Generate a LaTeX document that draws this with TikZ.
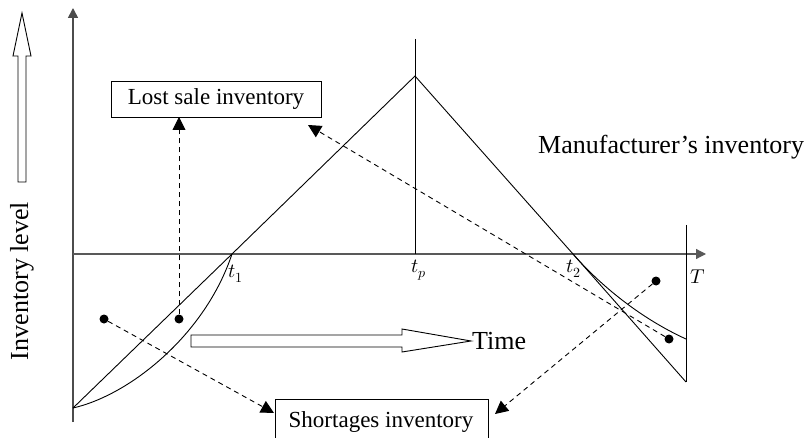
\documentclass[tikz,border=0pt]{standalone}
\usepackage{fontspec}
\usepackage{unicode-math}
\setmainfont{Liberation Serif}
\setmathfont{Latin Modern Math}
\usetikzlibrary{arrows.meta}
\begin{document}
\begin{tikzpicture}[x=1pt,y=-1pt,
  curve/.style={line width=0.9pt},
  axis/.style={line width=1.6pt,draw=black!65},
  leader/.style={line width=0.9pt,dash pattern=on 5pt off 4pt,-{Triangle[length=13pt,width=13pt]}},
  dotmark/.style={circle,fill=black,inner sep=0pt,minimum size=9pt},
  labelbox/.style={draw,line width=0.9pt,font=\fontsize{23}{27}\selectfont,inner sep=0pt},
  bigtext/.style={font=\fontsize{26}{30}\selectfont,inner sep=0pt},
  tlabel/.style={font=\fontsize{20}{24}\selectfont,inner sep=0pt},
  hollow/.style={draw,line width=0.9pt,fill=white,line join=miter}]
\useasboundingbox (0,0) rectangle (808,438);
\clip (0,0) rectangle (808,438);

% key points of the inventory curves
\coordinate (O) at (73,408);
\coordinate (t1) at (232,254);
\coordinate (pk) at (415,76);
\coordinate (t2) at (573,254);
\coordinate (E) at (686,382);
\coordinate (Ec) at (686,339);

% axes
\draw[axis,-{Triangle[length=10pt,width=10pt]},draw=black!70] (73,422) -- (73,8);
\draw[axis,line width=1.2pt,-{Triangle[length=10pt,width=10pt]}] (73,254) -- (706,254);
\draw[curve] (686,225) -- (E);
\draw[curve] (415,39) -- (415,254);

% straight inventory path and the curved shortage paths
\draw[curve] (O) -- (t1) -- (pk) -- (t2) -- (E);
\draw[curve] (O) .. controls (130,395) and (205,335) .. (t1);
\draw[curve] (t2) .. controls (600,285) and (640,318) .. (Ec);

% time labels
\node[tlabel] (lt1) at (236,274) {$t_1$};
\node[tlabel] (ltp) at (419,270) {$t_p$};
\node[tlabel] (lt2) at (574,269) {$t_2$};
\node[tlabel] (lT) at (698,277) {$T$};

% labelled boxes
\node[labelbox,minimum width=210pt,minimum height=36pt] (lost) at (216,99) {Lost sale inventory};
\node[labelbox,anchor=north west,minimum width=213pt,minimum height=50pt,text depth=0pt] (short) at (275,399) {};
\node[font=\fontsize{23}{27}\selectfont,inner sep=0pt,anchor=base] (shorttxt) at (381,427) {Shortages inventory};
\node[bigtext,anchor=base west] (manu) at (538,154) {Manufacturer’s inventory};

% sample points
\node[dotmark] (d1) at (104,319) {};
\node[dotmark] (d2) at (179,319) {};
\node[dotmark] (d3) at (656,281) {};
\node[dotmark] (d4) at (669,339) {};

% dashed leaders
\coordinate (lostA) at (179,117);
\coordinate (lostB) at (308,125);
\coordinate (shortA) at (274,413);
\coordinate (shortB) at (495,414);
\draw[leader] (d2) -- (lostA);
\draw[leader] (d4) -- (lostB);
\draw[leader] (d1) -- (shortA);
\draw[leader] (d3) -- (shortB);

% hollow "Time" arrow
\draw[hollow] (191,335) -- (402,335) -- (402,329) -- (471,341) -- (402,352) -- (402,347) -- (191,347) -- cycle;
\node[bigtext,anchor=west] (time) at (472,341) {Time};

% hollow "Inventory level" arrow
\draw[hollow] (18,182) -- (18,56) -- (13,56) -- (22,13) -- (31,56) -- (26,56) -- (26,182) -- cycle;
\node[bigtext,rotate=90] (invlev) at (22,281) {Inventory level};
\end{tikzpicture}
\end{document}
